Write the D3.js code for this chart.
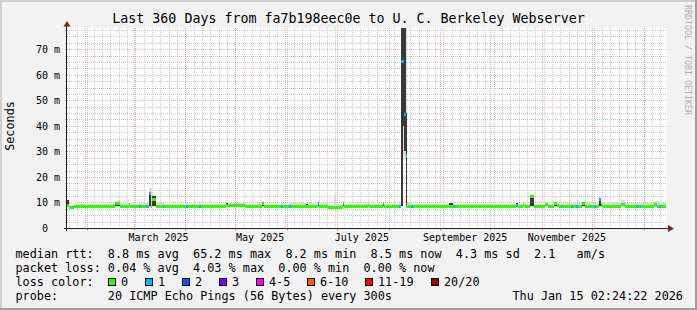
<!DOCTYPE html>
<html>
<head>
<meta charset="UTF-8">
<title>Last 360 Days</title>
<script src="https://cdn.jsdelivr.net/npm/d3@7"></script>
<style>
  body { margin: 0; background: #f2f2f2; }
  svg { display: block; font-family: "DejaVu Sans Mono", monospace; }
  text.pre { white-space: pre; }
</style>
</head>
<body>
<svg id="chart" width="697" height="310"></svg>
<script>
// time window of the graph
var rangeStart = "2025-01-20 02:24",
    rangeEnd   = "2026-01-15 02:24",
    dataEnd    = "2026-01-14 12";

// samples (each holds until the next one), values in ms
var times = [
  "2025-01-20 03","2025-01-21 00","2025-01-23 17","2025-01-24 14","2025-02-17 22","2025-02-20 22",
  "2025-02-26 00","2025-02-26 22","2025-03-04 14","2025-03-05 12","2025-03-08 12","2025-03-09 10",
  "2025-03-10 07","2025-03-11 12","2025-03-12 07","2025-03-14 12","2025-03-18 17","2025-03-19 14",
  "2025-04-01 19","2025-04-02 17","2025-04-09 07","2025-04-10 05","2025-04-25 12","2025-04-26 10",
  "2025-05-06 22","2025-05-17 02","2025-05-18 14","2025-05-28 19","2025-05-29 17","2025-06-02 07",
  "2025-06-03 05","2025-06-12 12","2025-06-13 10","2025-06-19 17","2025-06-20 14","2025-06-25 17",
  "2025-06-29 07","2025-06-30 12","2025-07-04 10","2025-07-05 14","2025-07-19 17","2025-07-20 14",
  "2025-07-28 17","2025-07-29 14","2025-08-07 14","2025-08-08 19","2025-08-09 10","2025-08-10 07",
  "2025-08-11 05","2025-08-11 19","2025-08-14 19","2025-08-15 17","2025-09-06 00","2025-09-08 17",
  "2025-09-09 22","2025-10-16 12","2025-10-17 10","2025-10-20 10","2025-10-21 14","2025-10-24 22",
  "2025-10-27 00","2025-11-02 22","2025-11-04 10","2025-11-08 07","2025-11-10 02","2025-11-11 07",
  "2025-11-12 05","2025-11-13 02","2025-11-18 12","2025-11-19 10","2025-11-21 12","2025-11-22 10",
  "2025-11-25 02","2025-11-26 22","2025-11-29 22","2025-11-30 19","2025-12-02 14","2025-12-03 12",
  "2025-12-05 00","2025-12-06 12","2025-12-07 17","2025-12-18 19","2025-12-20 22","2025-12-27 19",
  "2025-12-28 17","2025-12-29 22","2025-12-30 19","2026-01-07 07","2026-01-09 02","2026-01-10 14",
  "2026-01-11 19"
];
var median = [
  8.8,7.9,8.2,8.4,9.5,8.4, 9.1,8.4,8.4,8.4,8.4,8.4, 13.6,8.6,11.0,8.4,8.4,8.4,
  8.4,8.4,8.4,8.4,8.9,8.9, 8.4,9.6,8.4,8.4,8.4,8.4, 8.4,8.5,8.4,9.4,8.4,8.0,
  8.0,8.2,9.7,8.4,9.0,8.4, 9.4,8.4,8.4,65.0,65.0,44.5, 28.0,8.5,8.4,8.4,8.6,8.5,
  8.4,8.7,8.4,9.3,8.4,12.2, 8.4,9.2,8.4,9.5,8.9,8.4, 8.4,8.4,8.4,8.4,8.4,8.4,
  9.5,8.4,8.4,8.4,8.4,8.4, 11.0,8.7,8.4,9.3,8.4,8.4, 8.4,8.4,8.4,9.2,8.6,8.5,
  8.4
];
var lost = [
  0,0,1,0,0,0, 0,0,1,0,1,0, 1,0,0,0,1,0,
  1,0,1,0,0,0, 0,0,0,1,0,1, 0,0,0,1,0,0,
  0,0,0,0,0,0, 0,0,1,1,1,1, 1,0,1,0,0,1,
  0,1,0,0,0,0, 0,0,0,0,0,0, 1,0,1,0,1,0,
  0,0,1,0,1,0, 1,0,0,0,0,1, 0,1,0,0,0,1,
  0
];
var pingMin = [
  8.3,7.7,7.9,8.1,8.3,8.1, 8.3,8.1,8.1,8.1,8.1,8.1, 8.4,8.3,8.4,8.1,8.1,8.1,
  8.1,8.1,8.1,8.1,8.3,8.5, 8.1,8.3,8.1,8.1,8.1,8.1, 8.1,8.2,8.1,8.3,8.1,7.8,
  7.8,8.0,8.4,8.1,8.3,8.1, 8.3,8.1,8.1,8.6,28,27, 8.6,8.2,8.1,8.1,8.2,8.2,
  8.1,8.2,8.1,8.3,8.1,8.4, 8.1,8.3,8.1,8.3,8.2,8.1, 8.1,8.1,8.1,8.1,8.1,8.1,
  8.3,8.1,8.1,8.1,8.1,8.1, 8.3,8.2,8.1,8.3,8.1,8.1, 8.1,8.1,8.1,8.3,8.2,8.1,
  8.1
];
var pingMax = [
  11.0,8.6,9.0,9.4,10.6,9.6, 10.0,9.5,9.6,9.6,9.8,9.6, 15.6,15.6,13.0,9.6,9.6,9.5,
  9.6,9.5,9.6,9.5,10.3,9.9, 9.5,10.4,9.5,9.6,9.5,9.6, 9.6,9.8,9.6,11.0,9.7,9.0,
  13.0,9.4,10.5,9.4,9.8,9.4, 10.0,9.4,9.6,90,90,90, 90,10.0,9.6,9.4,10.3,10.5,
  9.4,9.8,9.5,9.9,9.5,12.8, 9.4,9.9,9.5,10.0,9.7,9.5, 9.6,9.6,9.6,9.6,9.6,9.6,
  10.1,9.6,9.8,9.6,9.8,9.6, 12.0,10.3,10.2,11.0,9.8,9.7, 9.6,9.7,9.6,10.5,10.7,10.0,
  9.6
];
var pingLo = [
  8.4,7.8,8.0,8.3,8.5,8.3, 8.5,8.3,8.3,8.3,8.3,8.3, 8.6,8.4,8.6,8.3,8.3,8.3,
  8.3,8.3,8.3,8.3,8.5,8.7, 8.3,8.5,8.3,8.3,8.3,8.3, 8.3,8.3,8.3,8.6,8.3,7.9,
  7.9,8.1,8.7,8.3,8.4,8.3, 8.5,8.3,8.3,8.6,40,30, 8.6,8.3,8.3,8.3,8.4,8.4,
  8.3,8.4,8.3,8.5,8.3,8.6, 8.3,8.5,8.3,8.5,8.4,8.3, 8.3,8.3,8.3,8.3,8.3,8.3,
  8.5,8.3,8.3,8.3,8.3,8.3, 8.5,8.4,8.3,8.5,8.3,8.3, 8.3,8.3,8.3,8.5,8.4,8.3,
  8.3
];
var pingHi = [
  10.8,8.1,8.4,8.6,10.0,8.6, 9.3,8.6,8.6,8.6,8.7,8.6, 13.8,9.2,12.6,8.6,8.6,8.6,
  8.6,8.6,8.6,8.6,9.9,9.1, 8.6,10.0,8.6,8.6,8.6,8.6, 8.6,9.4,8.6,9.6,8.6,8.2,
  8.3,8.4,10.0,8.6,9.3,8.6, 9.7,8.6,8.6,90,90,85, 45,8.7,8.6,8.6,9.8,8.8,
  8.6,9.6,8.6,9.5,8.6,12.6, 8.6,9.4,8.6,9.8,9.1,8.6, 8.6,8.6,8.6,8.6,8.6,8.6,
  9.8,8.6,8.6,8.6,8.6,8.6, 11.6,9.0,8.6,9.6,8.6,8.6, 8.6,8.6,8.6,9.5,9.0,8.7,
  8.6
];

// axis ticks and labels
var yTicks = [0, 10, 20, 30, 40, 50, 60, 70];
var xLabelDates = ["2025-03-16", "2025-05-16", "2025-07-16", "2025-09-16", "2025-11-16"];

// legend
var lossLabels = ["0", "1", "2", "3", "4-5", "6-10", "11-19", "20/20"];
var lossUpper  = [0, 1, 2, 3, 5, 10, 19, 20];
var lossColors = ["#26ff00", "#00b8ff", "#0059ff", "#7e00ff", "#ff00fe", "#ff5500", "#ff0000", "#a10000"];
var rttLine   = "median rtt:  8.8 ms avg  65.2 ms max  8.2 ms min  8.5 ms now  4.3 ms sd  2.1   am/s";
var lossLine  = "packet loss: 0.04 % avg  4.03 % max  0.00 % min  0.00 % now";
var probeLine = "probe:       20 ICMP Echo Pings (56 Bytes) every 300s";
var stamp     = "Thu Jan 15 02:24:22 2026";
var title     = "Last 360 Days from fa7b198eec0e to U. C. Berkeley Webserver";

var W = 697, H = 310;
var X0 = 67, X1 = 667, Y0 = 228, Y1 = 28;
var parseT = d3.timeParse("%Y-%m-%d %H"),
    parseM = d3.timeParse("%Y-%m-%d %H:%M"),
    parseD = d3.timeParse("%Y-%m-%d");

var x = d3.scaleTime().domain([parseM(rangeStart), parseM(rangeEnd)]).range([X0, X1]);
var y = d3.scaleLinear().domain([0, 78.3]).range([Y0, Y1]);

var svg = d3.select("#chart");

// background + 3d border
svg.append("rect").attr("width", W).attr("height", H).attr("fill", "#f2f2f2");
svg.append("path").attr("d", "M0,1H" + (W - 1) + "M1,0V" + (H - 1))
  .attr("stroke", "#cfcfcf").attr("stroke-width", 2).attr("fill", "none");
svg.append("path").attr("d", "M0," + (H - 1) + "H" + W + "M" + (W - 1) + ",0V" + H)
  .attr("stroke", "#9e9e9e").attr("stroke-width", 2).attr("fill", "none");

// canvas
svg.append("rect").attr("x", X0).attr("y", Y1).attr("width", X1 - X0).attr("height", Y0 - Y1).attr("fill", "#fff");

var grid = svg.append("g").attr("shape-rendering", "crispEdges").attr("fill", "none");
var minorC = "rgba(143,143,143,0.45)", majorC = "rgba(222,79,79,0.45)";

// horizontal grid
d3.range(2.5, 78.3, 2.5).forEach(function (v) {
  var yy = Math.round(y(v)) + 0.5, major = v % 10 === 0;
  grid.append("line").attr("x1", X0).attr("x2", X1).attr("y1", yy).attr("y2", yy)
    .attr("stroke", major ? majorC : minorC).attr("stroke-dasharray", "1,1");
  grid.append("line").attr("x1", X0 - 2).attr("x2", X0).attr("y1", yy).attr("y2", yy)
    .attr("stroke", major ? majorC : minorC);
});
// vertical grid
d3.timeDay.range(x.domain()[0], x.domain()[1], 5).forEach(function (t) {
  var xx = Math.round(x(t)) + 0.5;
  grid.append("line").attr("x1", xx).attr("x2", xx).attr("y1", Y1).attr("y2", Y0 + 1)
    .attr("stroke", minorC).attr("stroke-dasharray", "1,1");
});
d3.timeMonth.range(x.domain()[0], x.domain()[1]).forEach(function (t) {
  var xx = Math.round(x(t)) + 0.5;
  grid.append("line").attr("x1", xx).attr("x2", xx).attr("y1", Y1).attr("y2", Y0)
    .attr("stroke", majorC).attr("stroke-dasharray", "1,1");
  grid.append("line").attr("x1", xx).attr("x2", xx).attr("y1", Y0).attr("y2", Y0 + 3)
    .attr("stroke", majorC);
});

// data
svg.append("clipPath").attr("id", "clip").append("rect")
  .attr("x", X0).attr("y", Y1).attr("width", X1 - X0).attr("height", Y0 - Y1);
var plot = svg.append("g").attr("clip-path", "url(#clip)").attr("shape-rendering", "crispEdges");

var samples = times.map(function (t, i) {
  return {
    x0: Math.round(x(parseT(t))),
    x1: Math.round(x(parseT(i + 1 < times.length ? times[i + 1] : dataEnd))),
    med: median[i], loss: lost[i],
    min: pingMin[i], max: pingMax[i], lo: pingLo[i], hi: pingHi[i]
  };
});
function lossColor(n) {
  for (var k = 0; k < lossUpper.length; k++) if (n <= lossUpper[k]) return lossColors[k];
  return lossColors[lossColors.length - 1];
}
function band(cls, fill, a, b) {
  plot.selectAll("rect." + cls).data(samples).enter().append("rect")
    .attr("class", cls)
    .attr("x", function (d) { return d.x0; })
    .attr("width", function (d) { return Math.max(1, d.x1 - d.x0); })
    .attr("y", function (d) { return Math.round(y(d[b])); })
    .attr("height", function (d) { return Math.max(1, Math.round(y(d[a])) - Math.round(y(d[b]))); })
    .attr("fill", fill);
}
band("smoke", "#d9d9d9", "min", "max");
band("core", "#3a3a3a", "lo", "hi");

plot.selectAll("rect.median").data(samples).enter().append("rect")
  .attr("class", "median")
  .attr("x", function (d) { return d.x0; })
  .attr("width", function (d) { return Math.max(1, d.x1 - d.x0); })
  .attr("y", function (d) { return Math.round(y(d.med) - 1.5); })
  .attr("height", 3)
  .attr("fill", function (d) { return lossColor(d.loss); });

// axes
var axisC = "#1f1f1f", arrowC = "#801f1f";
svg.append("line").attr("x1", X0 - 0.5).attr("x2", X0 - 0.5).attr("y1", Y0 + 3).attr("y2", Y1 - 2)
  .attr("stroke", axisC).attr("shape-rendering", "crispEdges");
svg.append("line").attr("x1", X0 - 3).attr("x2", X1 + 3).attr("y1", Y0 + 0.5).attr("y2", Y0 + 0.5)
  .attr("stroke", axisC).attr("shape-rendering", "crispEdges");
svg.append("path").attr("d", "M63.5,26.5L70.5,26.5L67,21Z").attr("fill", arrowC);
svg.append("path").attr("d", "M668,225L668,232L674,228.5Z").attr("fill", arrowC);

// y labels
svg.append("g").selectAll("text").data(yTicks).enter().append("text")
  .attr("x", function (d) { return d === 0 ? 48 : 60; })
  .attr("y", function (d) { return Math.round(y(d)) + 4; })
  .attr("text-anchor", "end").attr("font-size", "10px")
  .text(function (d) { return d === 0 ? "0" : d + " m"; });

// x labels
var fmt = d3.timeFormat("%B %Y");
svg.append("g").selectAll("text").data(xLabelDates).enter().append("text")
  .attr("x", function (d) { return x(parseD(d)); })
  .attr("y", 241)
  .attr("text-anchor", "middle").attr("font-size", "10px")
  .text(function (d) { return fmt(parseD(d)); });

// title and side texts
svg.append("text").attr("x", 348.5).attr("y", 23).attr("text-anchor", "middle")
  .attr("font-size", "13.3px").text(title);
svg.append("text").attr("transform", "translate(14,126) rotate(-90)").attr("text-anchor", "middle")
  .attr("font-size", "11.8px").text("Seconds");
svg.append("text").attr("transform", "translate(684.5,5) rotate(90)")
  .attr("font-size", "8.3px").attr("fill", "#b0b0b0").text("RRDTOOL / TOBI OETIKER");

// legend
var cw = 7.1, lx = 15.5;
var leg = svg.append("g").attr("font-size", "11.8px");
function legText(tx, ty, s) {
  leg.append("text").attr("class", "pre").attr("xml:space", "preserve")
    .attr("x", tx).attr("y", ty).text(s);
}
legText(lx, 258, rttLine);
legText(lx, 272, lossLine);
legText(lx, 286, "loss color:");
legText(lx, 300, probeLine);
legText(512.5, 300, stamp);

var col = 13;
lossLabels.forEach(function (lab, k) {
  var bx = Math.round(16 + col * cw);
  leg.append("rect").attr("x", bx + 0.5).attr("y", 278.5).attr("width", 7).attr("height", 7)
    .attr("fill", lossColors[k]).attr("stroke", "#000").attr("shape-rendering", "crispEdges");
  legText(bx + 13, 286, lab);
  col += lab.length + 4.2;
});
</script>
</body>
</html>
